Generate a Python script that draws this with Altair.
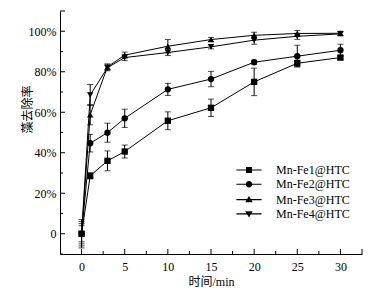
import altair as alt
import pandas as pd

times = [0, 1, 3, 5, 10, 15, 20, 25, 30]
series_names = ["Mn-Fe1@HTC", "Mn-Fe2@HTC", "Mn-Fe3@HTC", "Mn-Fe4@HTC"]
fe1 = [0, 28.6, 36.0, 40.6, 55.8, 62.2, 75.0, 84.2, 87.0]
fe2 = [0, 44.7, 49.9, 57.0, 71.3, 76.4, 84.7, 87.7, 90.6]
fe3 = [0, 58.8, 82.4, 88.2, 92.6, 95.9, 98.0, 98.9, 99.0]
fe4 = [0, 68.5, 82.0, 87.0, 89.5, 92.3, 95.6, 97.5, 98.7]
err1 = [4.0, 1.5, 4.9, 3.2, 4.4, 4.3, 6.8, 1.5, 1.0]
err2 = [6.0, 4.3, 4.7, 4.5, 3.0, 3.8, 1.0, 5.4, 3.0]
err3 = [5.0, 5.0, 1.5, 1.5, 3.3, 1.0, 1.5, 1.5, 1.0]
err4 = [7.0, 5.2, 1.5, 1.5, 1.5, 1.0, 2.0, 1.5, 1.0]

x_major = [0, 5, 10, 15, 20, 25, 30, 32.5]
x_minor = [2.5, 7.5, 12.5, 17.5, 22.5, 27.5]
y_major = [0, 20, 40, 60, 80, 100, 110]
y_minor = [-10, 10, 30, 50, 70, 90]

marker_shapes = ["square", "circle", "triangle-up", "triangle-down"]
LINE = "M-2.1,-0.09H2.1V0.09H-2.1Z"
legend_paths = [
    LINE + "M-0.5,-0.5H0.5V0.5H-0.5Z",
    LINE + "M0.55,0A0.55,0.55,0,1,1,-0.55,0A0.55,0.55,0,1,1,0.55,0Z",
    LINE + "M0,-0.62L0.62,0.45H-0.62Z",
    LINE + "M0,0.62L-0.62,-0.45H0.62Z",
]

rows = []
for name, vals, errs in zip(series_names, [fe1, fe2, fe3, fe4], [err1, err2, err3, err4]):
    for t, v, e in zip(times, vals, errs):
        rows.append({"t": t, "v": v, "lo": v - e, "hi": v + e,
                     "series": name, "series2": name})
df = pd.DataFrame(rows)

W, H = 302, 243
xs = alt.Scale(domain=[-2.5, 32.5], nice=False, zero=False)
ys = alt.Scale(domain=[-10, 110], nice=False, zero=False)
FONT = "Liberation Serif, Noto Sans CJK SC"

base = alt.Chart(df)

x_enc = alt.X("t:Q", scale=xs, axis=alt.Axis(
    values=[0, 5, 10, 15, 20, 25, 30], ticks=False, grid=False,
    domainColor="black", labelColor="black", labelFont=FONT, labelFontSize=12,
    labelPadding=7, title="时间/min", titleFont=FONT, titleFontSize=12,
    titleFontWeight="normal", titleColor="black", titlePadding=4))
y_axis = alt.Axis(
    values=[0, 20, 40, 60, 80, 100], ticks=False, grid=False,
    domainColor="black", labelColor="black", labelFont=FONT, labelFontSize=12,
    labelPadding=4, labelExpr="datum.value == 0 ? '0' : datum.value + '%'",
    title="藻去除率", titleFont="Noto Sans CJK SC", titleFontSize=12,
    titleFontWeight="normal", titleColor="black", titleX=-33, titleY=98,
    titleAngle=270, titleAlign="center", titleBaseline="middle")

lines = base.mark_line(color="black", strokeWidth=1).encode(
    x=x_enc, y=alt.Y("v:Q", scale=ys, axis=y_axis), detail="series:N")

bars = base.mark_rule(color="black", strokeWidth=1).encode(
    x="t:Q", y="lo:Q", y2="hi:Q")
caps_lo = base.mark_tick(orient="horizontal", size=6, thickness=1, color="black").encode(
    x="t:Q", y="lo:Q")
caps_hi = base.mark_tick(orient="horizontal", size=6, thickness=1, color="black").encode(
    x="t:Q", y="hi:Q")

points = base.mark_point(filled=True, color="black", opacity=1, size=40).encode(
    x="t:Q", y="v:Q",
    shape=alt.Shape("series:N", scale=alt.Scale(domain=series_names, range=marker_shapes),
                    legend=None))

legend_layer = base.mark_point(filled=True, color="black", opacity=0).encode(
    x="t:Q", y="v:Q",
    shape=alt.Shape("series2:N", scale=alt.Scale(domain=series_names, range=legend_paths),
                    legend=alt.Legend(
                        title=None, orient="none", legendX=182, legendY=152,
                        symbolSize=144, symbolOpacity=1, symbolFillColor="black",
                        labelFont=FONT, labelFontSize=12, labelColor="black",
                        labelOffset=20, rowPadding=1.3, padding=0)))

tick_major_x = alt.Chart(pd.DataFrame({"t": x_major})).mark_rule(color="black", strokeWidth=1).encode(
    x=alt.X("t:Q", scale=xs), y=alt.value(H), y2=alt.value(H - 5))
tick_minor_x = alt.Chart(pd.DataFrame({"t": x_minor})).mark_rule(color="black", strokeWidth=1).encode(
    x=alt.X("t:Q", scale=xs), y=alt.value(H), y2=alt.value(H - 3))
tick_major_y = alt.Chart(pd.DataFrame({"v": y_major})).mark_rule(color="black", strokeWidth=1).encode(
    y=alt.Y("v:Q", scale=ys), x=alt.value(0), x2=alt.value(5))
tick_minor_y = alt.Chart(pd.DataFrame({"v": y_minor})).mark_rule(color="black", strokeWidth=1).encode(
    y=alt.Y("v:Q", scale=ys), x=alt.value(0), x2=alt.value(3))

chart = alt.layer(
    lines, bars, caps_lo, caps_hi, points, legend_layer,
    tick_major_x, tick_minor_x, tick_major_y, tick_minor_y
).resolve_scale(shape="independent").properties(
    width=W, height=H,
    autosize=alt.AutoSizeParams(type="none"),
    padding={"left": 52, "top": 3, "right": 12, "bottom": 36},
    background="white",
).configure_view(stroke=None)

chart.save("out.html", embed_options={"renderer": "svg", "actions": False})
